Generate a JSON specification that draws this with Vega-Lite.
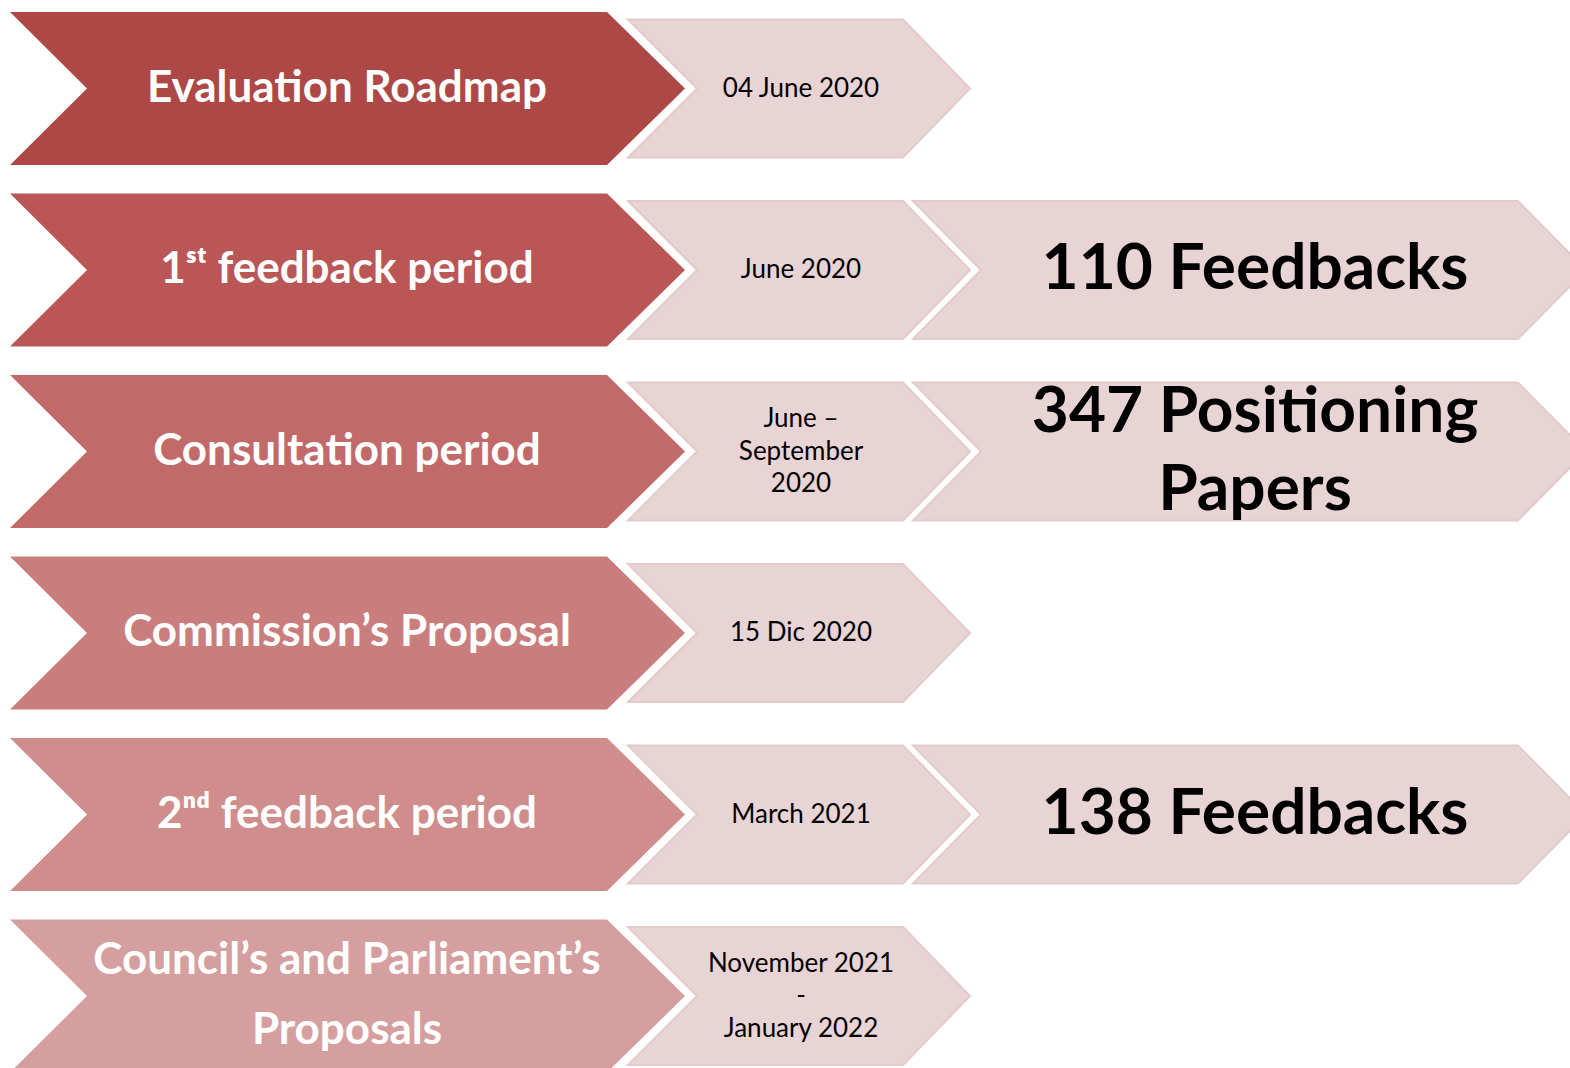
{
  "$schema": "https://vega.github.io/schema/vega-lite/v6.json",
  "width": 1570,
  "height": 1068,
  "autosize": "none",
  "padding": 0,
  "background": "white",
  "config": {"view": {"stroke": null}, "font": "Lato"},
  "data": {
    "values": [
      {"step": 1, "stage": "Evaluation Roadmap", "date": "04 June 2020", "count": null},
      {"step": 2, "stage": "1ˢᵗ feedback period", "date": "June 2020", "count": "110 Feedbacks"},
      {"step": 3, "stage": "Consultation period", "date": "June –\nSeptember\n2020", "count": "347 Positioning\nPapers"},
      {"step": 4, "stage": "Commission’s Proposal", "date": "15 Dic 2020", "count": null},
      {"step": 5, "stage": "2ⁿᵈ feedback period", "date": "March 2021", "count": "138 Feedbacks"},
      {"step": 6, "stage": "Council’s and Parliament’s\nProposals", "date": "November 2021\n-\nJanuary  2022", "count": null}
    ]
  },
  "encoding": {
    "y": {"field": "step", "type": "ordinal", "scale": {"type": "point", "range": [88.5, 996], "padding": 0}, "axis": null}
  },
  "layer": [
    {
      "mark": {"type": "point", "shape": "M-342,-69 L263,-69 L331,0 L263,69 L-342,69 L-274,0 Z", "size": 4, "filled": true, "opacity": 1, "fill": "#E9D4D5", "stroke": "#E3CACB", "strokeWidth": 2},
      "transform": [{"filter": "datum.count != null"}],
      "encoding": {"x": {"datum": "count", "type": "nominal", "scale": {"type": "point", "domain": ["stage", "date", "count"], "range": [347, 1255], "padding": 0}, "axis": null}}
    },
    {
      "mark": {"type": "point", "shape": "M-173,-69 L102,-69 L169,0 L102,69 L-173,69 L-104,0 Z", "size": 4, "filled": true, "opacity": 1, "fill": "#E9D4D5", "stroke": "#E3CACB", "strokeWidth": 2},
      "encoding": {"x": {"datum": "date", "type": "nominal", "axis": null}}
    },
    {
      "mark": {"type": "point", "shape": "M-337,-76.5 L260,-76.5 L338,0 L260,76.5 L-337,76.5 L-260,0 Z", "size": 4, "filled": true, "opacity": 1, "strokeWidth": 0},
      "encoding": {
        "x": {"datum": "stage", "type": "nominal", "axis": null},
        "color": {"field": "step", "type": "ordinal", "scale": {"range": ["#AD4846", "#BA5655", "#C26A69", "#C97E7D", "#CF8D8C", "#D69F9F"]}, "legend": null}
      }
    },
    {
      "mark": {"type": "text", "font": "Lato", "fontWeight": "bold", "fontSize": 44, "color": "white", "lineBreak": "\n", "align": "center", "baseline": "middle"},
      "transform": [{"filter": "indexof(datum.stage, '\\n') < 0"}],
      "encoding": {"x": {"datum": "stage", "type": "nominal", "axis": null}, "text": {"field": "stage"}}
    },
    {
      "mark": {"type": "text", "font": "Lato", "fontWeight": "bold", "fontSize": 44, "color": "white", "lineBreak": "\n", "lineHeight": 70, "dy": -35, "align": "center", "baseline": "middle"},
      "transform": [{"filter": "indexof(datum.stage, '\\n') >= 0"}],
      "encoding": {"x": {"datum": "stage", "type": "nominal", "axis": null}, "text": {"field": "stage"}}
    },
    {
      "mark": {"type": "text", "font": "Lato", "fontSize": 26, "color": "black", "lineBreak": "\n", "align": "center", "baseline": "middle"},
      "transform": [{"filter": "indexof(datum.date, '\\n') < 0"}],
      "encoding": {"x": {"datum": "date", "type": "nominal", "axis": null}, "text": {"field": "date"}}
    },
    {
      "mark": {"type": "text", "font": "Lato", "fontSize": 26, "color": "black", "lineBreak": "\n", "lineHeight": 32.5, "dy": -32.5, "align": "center", "baseline": "middle"},
      "transform": [{"filter": "indexof(datum.date, '\\n') >= 0"}],
      "encoding": {"x": {"datum": "date", "type": "nominal", "axis": null}, "text": {"field": "date"}}
    },
    {
      "mark": {"type": "text", "font": "Lato", "fontWeight": "bold", "fontSize": 64, "color": "black", "lineBreak": "\n", "align": "center", "baseline": "middle"},
      "transform": [{"filter": "datum.count != null && indexof(datum.count, '\\n') < 0"}],
      "encoding": {"x": {"datum": "count", "type": "nominal", "axis": null}, "text": {"field": "count"}}
    },
    {
      "mark": {"type": "text", "font": "Lato", "fontWeight": "bold", "fontSize": 64, "color": "black", "lineBreak": "\n", "lineHeight": 78, "dy": -39, "align": "center", "baseline": "middle"},
      "transform": [{"filter": "datum.count != null && indexof(datum.count, '\\n') >= 0"}],
      "encoding": {"x": {"datum": "count", "type": "nominal", "axis": null}, "text": {"field": "count"}}
    }
  ]
}
